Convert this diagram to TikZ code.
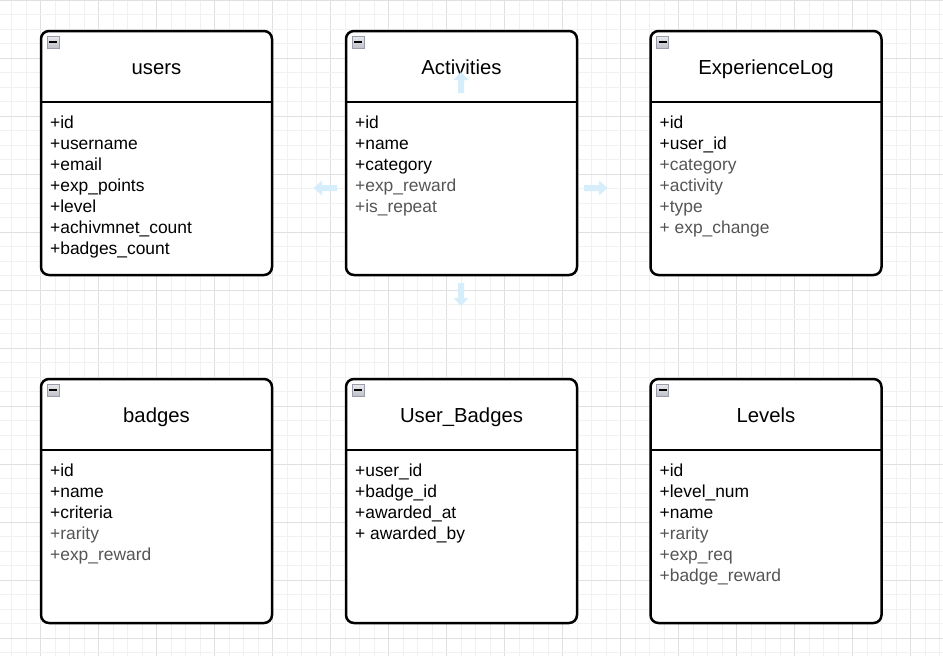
\documentclass[tikz,border=0pt]{standalone}
\usepackage{fontspec}
\setmainfont{Liberation Sans}
\definecolor{gridminor}{HTML}{F1F1F1}
\definecolor{gridmajor}{HTML}{E0E0E0}
\definecolor{attrgray}{HTML}{555555}
\definecolor{hoverblue}{HTML}{D6EEFB}
\definecolor{icontop}{HTML}{EAEAEE}
\definecolor{iconbottom}{HTML}{BFC0C8}
\definecolor{iconedge}{HTML}{9A9CAA}
\tikzset{
  umlbox/.style={draw=black, line width=2.5pt, rounded corners=8pt, fill=white,
    minimum width=231pt, minimum height=244pt, inner sep=0pt, outer sep=0pt},
  sepline/.style={draw=black, line width=2.5pt},
  titletext/.style={anchor=base, inner sep=0pt, font=\fontsize{20.3}{24}\selectfont},
  attr/.style={anchor=base west, inner sep=0pt, font=\fontsize{17.4}{21}\selectfont},
  minusicon/.style={draw=iconedge, line width=1pt, top color=icontop, bottom color=iconbottom,
    minimum size=12pt, inner sep=0pt, outer sep=0pt,
    path picture={\draw[black, line width=1.8pt] ([xshift=-4pt]path picture bounding box.center) -- ([xshift=4pt]path picture bounding box.center);}},
  hover/.style={fill=hoverblue, draw=none}
}
\newcommand\umlclass[5]{% name, center x, center y, title, attribute list
  \node[umlbox] (#1) at (#2,#3) {};
  \draw[sepline] ([shift={(0,71)}]#1.north west) -- ([shift={(0,71)}]#1.north east);
  \node[minusicon] (#1-m) at ([shift={(12,11)}]#1.north west) {};
  \node[titletext] (#1-t) at ([shift={(0,43)}]#1.north) {#4};
  \foreach \t/\c [count=\i from 0] in {#5} {
    \node[attr, text=\c] (#1-a\i) at ([shift={(9,97+21*\i)}]#1.north west) {\t};
  }
}
\begin{document}
\begin{tikzpicture}[x=1pt, y=-1pt]
\useasboundingbox (0,0) rectangle (943,656);
\fill[white] (0,0) rectangle (943,656);
% grid
\foreach \i in {0,...,64} {
  \pgfmathtruncatemacro\m{mod(\i,4)}
  \ifnum\m=2
    \draw[gridmajor, line width=0.9pt] (11.5+14.5*\i,0) -- (11.5+14.5*\i,656);
  \else
    \draw[gridminor, line width=0.8pt] (11.5+14.5*\i,0) -- (11.5+14.5*\i,656);
  \fi
}
\foreach \i in {0,...,45} {
  \pgfmathtruncatemacro\m{mod(\i,4)}
  \ifnum\m=0
    \draw[gridmajor, line width=0.9pt] (0,14.5*\i) -- (943,14.5*\i);
  \else
    \draw[gridminor, line width=0.8pt] (0,14.5*\i) -- (943,14.5*\i);
  \fi
}
% classes
\umlclass{users}{156.5}{153}{users}{
  +id/black, +username/black, +email/black, +exp\_points/black, +level/black,
  +achivmnet\_count/black, +badges\_count/black}
\umlclass{activities}{461.5}{153}{Activities}{
  +id/black, +name/black, +category/black, +exp\_reward/attrgray, +is\_repeat/attrgray}
\umlclass{explog}{766}{153}{ExperienceLog}{
  +id/black, +user\_id/black, +category/attrgray, +activity/attrgray, +type/attrgray,
  + exp\_change/attrgray}
\umlclass{badges}{156.5}{501}{badges}{
  +id/black, +name/black, +criteria/black, +rarity/attrgray, +exp\_reward/attrgray}
\umlclass{userbadges}{461.5}{501}{User\_Badges}{
  +user\_id/black, +badge\_id/black, +awarded\_at/black, + awarded\_by/black}
\umlclass{levels}{766}{501}{Levels}{
  +id/black, +level\_num/black, +name/black, +rarity/attrgray, +exp\_req/attrgray,
  +badge\_reward/attrgray}
% faint hover arrows around Activities
\fill[hover] (458,93) -- (458,80) -- (453.5,80) -- (461,72) -- (468.5,80) -- (464,80) -- (464,93) -- cycle;
\fill[hover] (458,283) -- (458,298) -- (453.5,298) -- (461,306) -- (468.5,298) -- (464,298) -- (464,283) -- cycle;
\fill[hover] (337,185) -- (322,185) -- (322,180.5) -- (313.5,188) -- (322,195.5) -- (322,191) -- (337,191) -- cycle;
\fill[hover] (584,185) -- (599,185) -- (599,180.5) -- (607.5,188) -- (599,195.5) -- (599,191) -- (584,191) -- cycle;
\end{tikzpicture}
\end{document}
